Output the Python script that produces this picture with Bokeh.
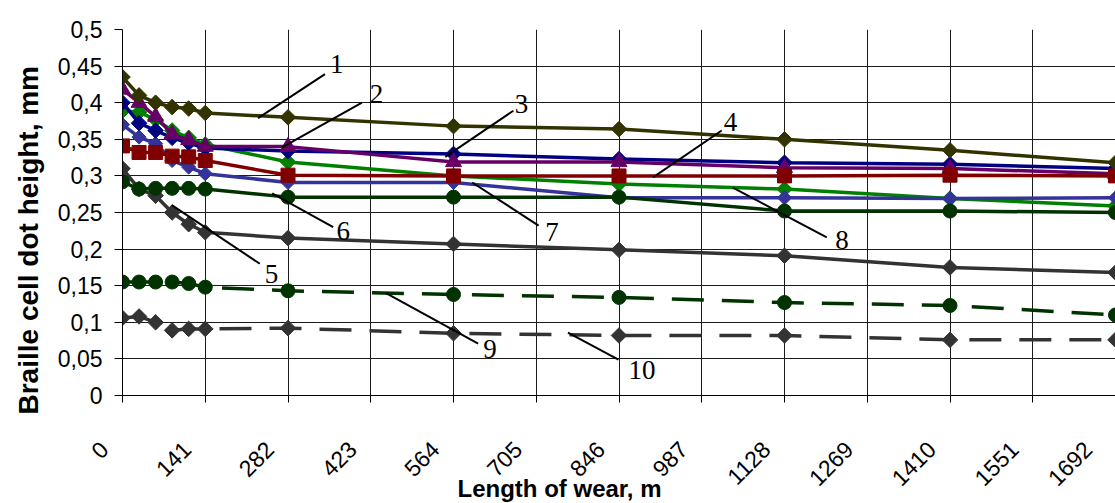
import math
from bokeh.plotting import figure
from bokeh.models import FixedTicker, CustomJSTickFormatter, Range1d, Title
from bokeh.core.properties import value
from bokeh.embed import file_html
from bokeh.resources import INLINE

# ---- data ----
x_len = [0, 28.2, 56.4, 84.6, 112.8, 141, 282, 564, 846, 1128, 1410, 1692]
x_ticks = [0, 141, 282, 423, 564, 705, 846, 987, 1128, 1269, 1410, 1551, 1692]
y_ticks = [0, 0.05, 0.1, 0.15, 0.2, 0.25, 0.3, 0.35, 0.4, 0.45, 0.5]

s1 = [0.435, 0.410, 0.400, 0.394, 0.392, 0.386, 0.380, 0.368, 0.364, 0.350, 0.335, 0.318]
s2 = [0.418, 0.400, 0.381, 0.357, 0.349, 0.340, 0.340, 0.319, 0.319, 0.311, 0.310, 0.303]
s3 = [0.400, 0.372, 0.362, 0.352, 0.345, 0.338, 0.334, 0.330, 0.323, 0.318, 0.316, 0.310]
s4 = [0.341, 0.332, 0.332, 0.327, 0.326, 0.321, 0.301, 0.300, 0.300, 0.300, 0.301, 0.300]
s5 = [0.310, 0.282, 0.273, 0.250, 0.234, 0.223, 0.215, 0.207, 0.199, 0.191, 0.175, 0.168]
s6 = [0.292, 0.282, 0.283, 0.283, 0.283, 0.282, 0.271, 0.271, 0.271, 0.252, 0.252, 0.250]
s7 = [0.370, 0.353, 0.344, 0.321, 0.312, 0.303, 0.291, 0.291, 0.270, 0.270, 0.269, 0.270]
s8 = [0.389, 0.387, 0.377, 0.362, 0.352, 0.343, 0.319, 0.300, 0.289, 0.282, 0.269, 0.259]
s9 = [0.155, 0.155, 0.155, 0.155, 0.153, 0.148, 0.143, 0.138, 0.134, 0.127, 0.123, 0.110]
s10 = [0.106, 0.108, 0.100, 0.089, 0.091, 0.091, 0.092, 0.085, 0.082, 0.082, 0.076, 0.076]

# series labels 1..10
labels = ["1", "2", "3", "4", "5", "6", "7", "8", "9", "10"]
x_title = "Length of wear, m"
y_title = "Braille cell dot height, mm"

# ---- annotation layout (leader start, leader end, text position; data coords) ----
lead_x0 = [231, 272, 550, 904, 84, 255, 596, 1040, 449, 759]
lead_y0 = [0.379, 0.339, 0.326, 0.298, 0.260, 0.276, 0.291, 0.284, 0.140, 0.086]
lead_x1 = [345, 408, 666, 1021, 234, 359, 709, 1200, 606, 845]
lead_y1 = [0.439, 0.400, 0.389, 0.362, 0.180, 0.230, 0.232, 0.216, 0.071, 0.049]
lab_x = [365, 433, 680, 1036, 254, 376, 732, 1226, 626, 885]
lab_y = [0.453, 0.412, 0.398, 0.373, 0.166, 0.225, 0.223, 0.212, 0.064, 0.035]

p = figure(width=1115, height=503,
           x_range=Range1d(0, 1692), y_range=Range1d(0, 0.5),
           output_backend="svg", toolbar_location=None,
           min_border_left=122, min_border_right=0,
           min_border_top=29, min_border_bottom=107)
p.outline_line_color = None
p.background_fill_color = "white"
p.border_fill_color = "white"

# grid
p.xgrid.ticker = FixedTicker(ticks=x_ticks)
p.ygrid.ticker = FixedTicker(ticks=y_ticks[1:-1])
p.xgrid.grid_line_color = "#1a1a1a"
p.ygrid.grid_line_color = "#1a1a1a"
p.xgrid.grid_line_width = 1
p.ygrid.grid_line_width = 1

# axes
p.xaxis.ticker = FixedTicker(ticks=x_ticks)
p.yaxis.ticker = FixedTicker(ticks=y_ticks)
p.yaxis.formatter = CustomJSTickFormatter(code="""
let s = tick.toFixed(2);
s = s.replace(/0+$/, '').replace(/\\.$/, '');
return s.replace('.', ',');
""")
# x labels: trailing no-break spaces shift the rotated text down-left, as in the reference
p.xaxis.formatter = CustomJSTickFormatter(code="""
return String(Math.round(tick)) + '\\u00a0\\u00a0\\u00a0\\u00a0';
""")
for ax in (p.xaxis[0], p.yaxis[0]):
    ax.axis_line_color = "black"
    ax.axis_line_width = 1
    ax.major_tick_line_color = "black"
    ax.major_tick_in = 0
    ax.major_tick_out = 8
    ax.minor_tick_line_color = None
    ax.major_label_text_font = "Liberation Sans"
    ax.major_label_text_font_size = "23px"
    ax.major_label_text_color = "black"
p.xaxis.major_tick_out = 7
p.xaxis.major_label_orientation = math.pi / 4
p.xaxis.major_label_standoff = 25
p.yaxis.major_label_standoff = 12

# axis titles as side titles (left-aligned with an offset, like the reference)
p.add_layout(Title(text=x_title, align="left", offset=335, standoff=-57,
                   vertical_align="top",
                   text_font="Liberation Sans", text_font_style="bold",
                   text_font_size="24px", text_color="black"), "below")
p.add_layout(Title(text=y_title, align="left", offset=-19, standoff=21,
                   text_font="Liberation Sans", text_font_style="bold",
                   text_font_size="28px", text_color="black"), "left")

# series drawing
def draw(ys, color, marker, size, dash="solid", angle=0.0):
    p.line(x_len, ys, line_color=color, line_width=3.5, line_dash=dash)
    p.scatter(x_len, ys, marker=marker, size=size, angle=angle,
              fill_color=color, line_color=color, line_width=1)

D = math.pi / 4
draw(s10, "#333333", "square", 11, dash="32 18", angle=D)
draw(s9, "#003300", "circle", 14, dash="32 18")
draw(s5, "#333333", "square", 11, angle=D)
draw(s8, "#008000", "square", 11, angle=D)
draw(s7, "#333399", "square", 10, angle=D)
draw(s6, "#003300", "circle", 14)
draw(s3, "#000080", "square", 11, angle=D)
draw(s2, "#660066", "triangle", 16)
draw(s4, "#800000", "square", 14)
draw(s1, "#333300", "square", 11, angle=D)

# annotations
p.segment(lead_x0, lead_y0, lead_x1, lead_y1, line_color="black", line_width=2)
p.text(lab_x, lab_y, text=labels, text_font=value("Liberation Serif"),
       text_font_size="27px", text_align="center", text_baseline="middle",
       text_color="black")

open("out.html", "w").write(file_html(p, INLINE))
